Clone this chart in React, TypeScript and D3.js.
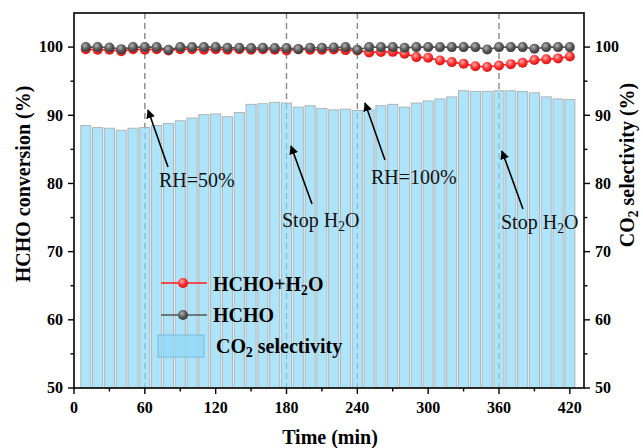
import React from "react";
import * as d3 from "d3";

const W = 643;
const H = 448;

// time points (min)
const times = [10, 20, 30, 40, 50, 60, 70, 80, 90, 100, 110, 120, 130, 140, 150, 160, 170, 180, 190, 200, 210, 220, 230, 240, 250, 260, 270, 280, 290, 300, 310, 320, 330, 340, 350, 360, 370, 380, 390, 400, 410, 420];

// CO2 selectivity (%) bars
const co2Selectivity = [88.5, 88.2, 88.1, 87.8, 88.1, 88.2, 88.5, 88.8, 89.2, 89.6, 90.1, 90.2, 89.8, 90.4, 91.6, 91.7, 91.9, 91.8, 91.2, 91.4, 91.0, 90.8, 90.9, 90.7, 90.8, 91.4, 91.6, 91.2, 91.8, 92.1, 92.4, 92.7, 93.6, 93.5, 93.5, 93.6, 93.6, 93.5, 93.3, 92.7, 92.4, 92.3];

// HCHO conversion with water (%)
const hchoH2O = [99.7, 99.6, 99.6, 99.4, 99.7, 99.6, 99.7, 99.5, 99.7, 99.7, 99.6, 99.7, 99.6, 99.7, 99.6, 99.7, 99.6, 99.5, 99.7, 99.6, 99.6, 99.66, 99.56, 99.5, 99.22, 99.27, 99.3, 99.02, 98.53, 98.44, 98.04, 97.8, 97.56, 97.2, 97.07, 97.3, 97.5, 97.7, 98.1, 98.2, 98.34, 98.63];

// HCHO conversion dry (%)
const hcho = [100, 100, 99.95, 99.7, 100, 100, 100, 99.6, 100, 100, 100, 100, 99.9, 99.9, 99.85, 99.9, 99.85, 99.85, 99.7, 99.9, 99.9, 99.95, 100, 99.6, 100, 100, 100, 99.9, 100, 100, 100, 100, 100, 100, 99.65, 100, 100, 100, 99.75, 100, 100, 100];

const xTicks = [0, 60, 120, 180, 240, 300, 360, 420];
const xMinorTicks = [30, 90, 150, 210, 270, 330, 390];
const yTicks = [50, 60, 70, 80, 90, 100];
const yMinorTicks = [55, 65, 75, 85, 95];
const dashedTimes = [60, 180, 240, 360];

// annotations: label, arrow head (t,v), arrow tail (t,v), text anchor (t,v)
const annLabels = ["RH=50%", "Stop H2O", "RH=100%", "Stop H2O"];
const annHead = [[62.7, 90.77], [183.8, 85.49], [246.5, 91.79], [362.5, 84.76]];
const annTail = [[79.6, 82.41], [201.6, 76.99], [263.4, 83.44], [380.3, 76.25]];
const annText = [[72, 79.48], [176.2, 73.61], [251.6, 79.92], [361.7, 73.32]];

const SERIF = "'Liberation Serif', 'Times New Roman', serif";

function Sub({ text, size }: { text: string; size: number }) {
  const parts = text.split("2");
  const out: React.ReactNode[] = [];
  parts.forEach((p, i) => {
    if (i > 0) {
      out.push(
        <tspan key={"s" + i} fontSize={size * 0.68} dy={size * 0.22}>2</tspan>
      );
      out.push(
        <tspan key={"p" + i} fontSize={size} dy={-size * 0.22}>{p}</tspan>
      );
    } else {
      out.push(<tspan key={"p" + i}>{p}</tspan>);
    }
  });
  return <>{out}</>;
}

export default function App() {
  const left = 74, right = 584, top = 13, bottom = 388;
  const x = d3.scaleLinear().domain([0, 432]).range([left, right]);
  const y = d3.scaleLinear().domain([50, 105]).range([bottom, top]);
  const barW = x(8.6) - x(0);

  const lineGen = d3.line<number>().x((_, i) => x(times[i])).y((d) => y(d));

  const tickFont = 16;
  const titleFont = 20;
  const annFont = 20;
  const R = 5;

  return (
    <svg width={W} height={H} style={{ position: "absolute", left: 0, top: 0, background: "#fff" }} fontFamily={SERIF}>
      <defs>
        <radialGradient id="gball" cx="0.4" cy="0.35" r="0.65">
          <stop offset="0" stopColor="#b5b5b5" />
          <stop offset="0.55" stopColor="#5a5a5a" />
          <stop offset="1" stopColor="#3a3a3a" />
        </radialGradient>
        <radialGradient id="rball" cx="0.4" cy="0.35" r="0.65">
          <stop offset="0" stopColor="#ffb0b0" />
          <stop offset="0.55" stopColor="#ff3030" />
          <stop offset="1" stopColor="#e01010" />
        </radialGradient>
        <marker id="arrow" viewBox="0 0 10 10" refX="9" refY="5" markerWidth="9" markerHeight="9" markerUnits="userSpaceOnUse" orient="auto">
          <path d="M0,0 L10,5 L0,10 z" fill="#000" />
        </marker>
      </defs>

      {/* dashed verticals */}
      {dashedTimes.map((t) => (
        <line key={t} x1={x(t)} x2={x(t)} y1={top} y2={bottom} stroke="#888" strokeWidth={1.4} strokeDasharray="6,4" />
      ))}

      {/* bars */}
      {co2Selectivity.map((v, i) => (
        <rect key={i} x={x(times[i]) - barW / 2} y={y(v)} width={barW} height={y(50) - y(v)}
          fill="#8bd8f8" fillOpacity={0.7} stroke="#a8a8a8" strokeOpacity={0.8} strokeWidth={1} />
      ))}

      {/* lines */}
      <path d={lineGen(hchoH2O) || ""} fill="none" stroke="#ff1a1a" strokeWidth={1.6} />
      {hchoH2O.map((v, i) => (
        <circle key={"r" + i} cx={x(times[i])} cy={y(v)} r={R} fill="url(#rball)" />
      ))}
      <path d={lineGen(hcho) || ""} fill="none" stroke="#555" strokeWidth={1.6} />
      {hcho.map((v, i) => (
        <circle key={"g" + i} cx={x(times[i])} cy={y(v)} r={R} fill="url(#gball)" />
      ))}

      {/* annotations */}
      {annLabels.map((lab, i) => (
        <g key={"a" + i}>
          <line x1={x(annTail[i][0])} y1={y(annTail[i][1])} x2={x(annHead[i][0])} y2={y(annHead[i][1])}
            stroke="#000" strokeWidth={1.6} markerEnd="url(#arrow)" />
          <text x={x(annText[i][0])} y={y(annText[i][1])} fontSize={annFont} fill="#111">
            <Sub text={lab} size={annFont} />
          </text>
        </g>
      ))}

      {/* legend */}
      <g>
        <line x1={161} x2={207} y1={283} y2={283} stroke="#ff1a1a" strokeWidth={1.6} />
        <circle cx={183} cy={283} r={R} fill="url(#rball)" />
        <text x={213} y={291} fontSize={titleFont} fontWeight="bold" fill="#000">
          <Sub text="HCHO+H2O" size={titleFont} />
        </text>
        <line x1={161} x2={207} y1={315} y2={315} stroke="#555" strokeWidth={1.6} />
        <circle cx={183} cy={315} r={R} fill="url(#gball)" />
        <text x={213} y={322} fontSize={titleFont} fontWeight="bold" fill="#000">HCHO</text>
        <rect x={158} y={335} width={46} height={22} fill="#8bd8f8" fillOpacity={0.7} stroke="#7ab8d8" strokeWidth={1} />
        <text x={216} y={353} fontSize={titleFont} fontWeight="bold" fill="#000">
          <Sub text="CO2 selectivity" size={titleFont} />
        </text>
      </g>

      {/* frame */}
      <rect x={left} y={top} width={right - left} height={bottom - top} fill="none" stroke="#000" strokeWidth={1.6} />

      {/* x axis ticks */}
      {xTicks.map((t) => (
        <g key={"xt" + t}>
          <line x1={x(t)} x2={x(t)} y1={bottom} y2={bottom + 6} stroke="#000" strokeWidth={1.4} />
          <text x={x(t)} y={413} textAnchor="middle" fontSize={tickFont} fontWeight="bold">{t}</text>
        </g>
      ))}
      {xMinorTicks.map((t) => (
        <line key={"xm" + t} x1={x(t)} x2={x(t)} y1={bottom} y2={bottom + 3.5} stroke="#000" strokeWidth={1.4} />
      ))}

      {/* y axes ticks */}
      {yTicks.map((v) => (
        <g key={"yt" + v}>
          <line x1={left - 6} x2={left} y1={y(v)} y2={y(v)} stroke="#000" strokeWidth={1.4} />
          <text x={left - 11} y={y(v)} dy="0.33em" textAnchor="end" fontSize={tickFont} fontWeight="bold">{v}</text>
          <line x1={right} x2={right + 6} y1={y(v)} y2={y(v)} stroke="#000" strokeWidth={1.4} />
          <text x={right + 11} y={y(v)} dy="0.33em" textAnchor="start" fontSize={tickFont} fontWeight="bold">{v}</text>
        </g>
      ))}
      {yMinorTicks.map((v) => (
        <g key={"ym" + v}>
          <line x1={left - 3.5} x2={left} y1={y(v)} y2={y(v)} stroke="#000" strokeWidth={1.4} />
          <line x1={right} x2={right + 3.5} y1={y(v)} y2={y(v)} stroke="#000" strokeWidth={1.4} />
        </g>
      ))}

      {/* axis titles */}
      <text x={330} y={444} textAnchor="middle" fontSize={titleFont} fontWeight="bold">Time (min)</text>
      <text transform="translate(30,184) rotate(-90)" textAnchor="middle" fontSize={titleFont} fontWeight="bold">HCHO conversion (%)</text>
      <text transform="translate(634,165) rotate(-90)" textAnchor="middle" fontSize={titleFont} fontWeight="bold">
        <Sub text="CO2 selectivity (%)" size={titleFont} />
      </text>
    </svg>
  );
}
